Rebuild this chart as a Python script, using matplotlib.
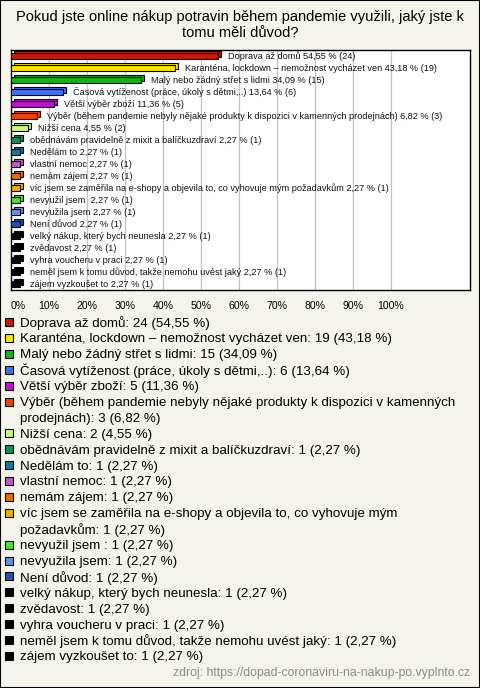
import textwrap
import numpy as np
import matplotlib
matplotlib.use("Agg")
import matplotlib.pyplot as plt
from matplotlib.transforms import offset_copy
from matplotlib.patches import Rectangle

plt.rcParams["font.family"] = ["Liberation Sans", "DejaVu Sans"]

title = "Pokud jste online nákup potravin během pandemie využili, jaký jste k\ntomu měli důvod?"
source = "zdroj: https://dopad-coronaviru-na-nakup-po.vyplnto.cz"

categories = [
    "Doprava až domů",
    "Karanténa, lockdown – nemožnost vycházet ven",
    "Malý nebo žádný střet s lidmi",
    "Časová vytíženost (práce, úkoly s dětmi,..)",
    "Větší výběr zboží",
    "Výběr (během pandemie nebyly nějaké produkty k dispozici v kamenných prodejnách)",
    "Nižší cena",
    "obědnávám pravidelně z mixit a balíčkuzdraví",
    "Nedělám to",
    "vlastní nemoc",
    "nemám zájem",
    "víc jsem se zaměřila na e-shopy a objevila to, co vyhovuje mým požadavkům",
    "nevyužil jsem ",
    "nevyužila jsem",
    "Není důvod",
    "velký nákup, který bych neunesla",
    "zvědavost",
    "vyhra voucheru v praci",
    "neměl jsem k tomu důvod, takže nemohu uvést jaký",
    "zájem vyzkoušet to",
]
counts = [24, 19, 15, 6, 5, 3, 2, 1, 1, 1, 1, 1, 1, 1, 1, 1, 1, 1, 1, 1]
total = 44
colors = [
    "#c01c0c", "#f8e400", "#18b020", "#4070e8", "#b818c8", "#e84410",
    "#c8f880", "#109058", "#1c7890", "#b860c0", "#e07010", "#e8b000",
    "#50e030", "#6890d8", "#2850b0", "#000000", "#000000", "#000000",
    "#000000", "#000000",
]
ticks = [0, 10, 20, 30, 40, 50, 60, 70, 80, 90, 100]

pct = [c / total * 100 for c in counts]


def fmt(v):
    return f"{v:.2f}".replace(".", ",")


W, H = 480, 688
fig = plt.figure(figsize=(W / 100, H / 100), dpi=100, facecolor="#f4f4ec")
fig.patches.append(Rectangle((0, 0), 1, 1, transform=fig.transFigure,
                             fill=False, edgecolor="black", linewidth=1.5))

fig.text(0.5, 1 - 25 / H, title, ha="center", va="center", fontsize=10.5,
         linespacing=1.12)

# bar chart area
ax = fig.add_axes([11 / W, 1 - 290 / H, 459 / W, 240 / H])
ax.set_facecolor("white")
y = np.arange(len(categories))
ax.set_xlim(0, 459 / 3.8)
ax.set_ylim(len(categories) - 0.5, -0.5)
for t in ticks[1:]:
    ax.axvline(t, color="#c4c4c4", linewidth=0.9, zorder=0)

depth = offset_copy(ax.transData, fig=fig, x=3, y=2, units="dots")
ax.barh(y, pct, height=0.45, color=colors, edgecolor="black",
        linewidth=0.8, transform=depth, zorder=2)
ax.barh(y, pct, height=0.45, color=colors, edgecolor="black",
        linewidth=0.8, zorder=3)

for yi, p, c, name in zip(y, pct, counts, categories):
    ax.annotate(f"{name} {fmt(p)} % ({c})", (p, yi), xytext=(10, 0),
                textcoords="offset pixels", va="center", ha="left",
                fontsize=6.6, color="#111111", zorder=4)

ax.set_yticks([])
ax.set_xticks(ticks)
ax.set_xticklabels([f"{t}%" for t in ticks], fontsize=7.6)
ax.tick_params(axis="x", length=0, pad=8)
ax.get_xticklabels()[0].set_horizontalalignment("left")
for s in ax.spines.values():
    s.set_linewidth(1.0)
    s.set_color("black")

# legend list below
line_h = 15.9
row = 0
for name, c, p, col in zip(categories, counts, pct, colors):
    text = f"{name}: {c} ({fmt(p)} %)"
    lines = textwrap.wrap(text, width=68)
    yc = 322 + row * line_h
    fig.patches.append(Rectangle((5 / W, 1 - (yc + 4) / H), 8 / W, 8 / H,
                                 transform=fig.transFigure, facecolor=col,
                                 edgecolor="black", linewidth=0.8))
    for k, ln in enumerate(lines):
        fig.text(20 / W, 1 - (yc + 1.5 + k * line_h) / H, ln, ha="left",
                 va="center", fontsize=9.65)
    row += len(lines)

fig.text(470 / W, 1 - 673 / H, source, ha="right", va="center",
         fontsize=8.8, color="#8c8c8c")

fig.savefig("out.png", dpi=100, facecolor=fig.get_facecolor())
